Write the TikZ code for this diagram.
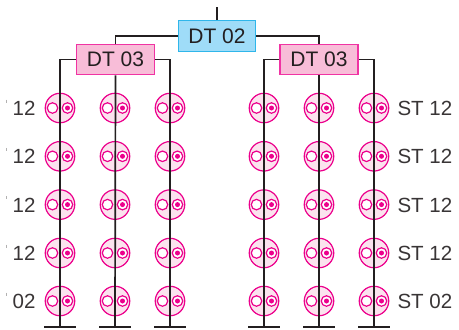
\documentclass[tikz,border=0pt]{standalone}
\usepackage{fontspec}
\usetikzlibrary{calc}
\setmainfont{Liberation Sans}
\definecolor{mag}{HTML}{EC008C}
\definecolor{lightpink}{HTML}{FBE3EE}
\definecolor{boxpink}{HTML}{F8BDD8}
\definecolor{boxblue}{HTML}{9FDCF8}
\definecolor{boxblueline}{HTML}{2FB6EA}
\definecolor{ink}{HTML}{231F20}
\tikzset{
  wire/.style={draw=ink,line width=1.7pt},
  thin wire/.style={draw=ink,line width=1.3pt},
  baseline bar/.style={draw=ink,line width=1.5pt},
  scrap/.style={draw=ink!35,line width=0.6pt},
  socket/.style={circle,draw=mag,fill=lightpink,line width=1.2pt,minimum size=29.5pt,inner sep=0pt},
  hole/.style={circle,draw=mag,fill=white,line width=1.2pt,minimum size=10.5pt,inner sep=0pt},
  dot/.style={circle,fill=mag,minimum size=5pt,inner sep=0pt},
  pinkbox/.style={rectangle,draw=mag!80,fill=boxpink,line width=1.2pt,minimum width=78pt,minimum height=30.5pt,inner sep=0pt,text=ink,font=\fontsize{21}{25}\selectfont},
  bluebox/.style={rectangle,draw=boxblueline,fill=boxblue,line width=1.4pt,minimum width=77pt,minimum height=31pt,inner sep=0pt,text=ink,font=\fontsize{21}{25}\selectfont},
  lbl/.style={inner sep=0pt,text=ink!90,font=\fontsize{20.5}{25}\selectfont},
}
\begin{document}
\begin{tikzpicture}[x=1pt,y=-1pt]
\useasboundingbox (0,0) rectangle (459,330);
% boxes
\node[bluebox] (top) at (217,36) {DT 02};
\node[pinkbox] (left) at (115.5,59.5) {DT 03};
\node[pinkbox] (right) at (319,59.5) {DT 03};
\coordinate (feed) at (217,7);
\draw[thin wire] (feed) -- (top.north);
\draw[thin wire] (top.west) -| (left.north);
\draw[thin wire] (top.east) -| (right.north);
% sockets
\foreach \c/\x in {a/60,b/115,c/170,d/264,e/319,f/374}{
  \foreach \r/\y in {1/108,2/156.3,3/204.6,4/253,5/301}{
    \node[socket] (s\c\r) at (\x,\y) {};
    \node[hole] (h\c\r) at (\x-7.5,\y) {};
    \node[hole] (k\c\r) at (\x+7.5,\y) {};
    \node[dot] (d\c\r) at (\x+7.5,\y) {};
  }
  \coordinate (end\c) at (\x,327);
  \coordinate (barl\c) at (\x-16,327);
  \coordinate (barr\c) at (\x+16,327);
  \draw[baseline bar] (barl\c) -- (barr\c);
}
% feeders
\draw[wire] (left.west) -| (enda);
\draw[wire] (left.south) -- (endb);
\draw[wire] (left.east) -| (endc);
\draw[wire] (right.west) -| (endd);
\draw[wire] (right.south) -- (ende);
\draw[wire] (right.east) -| (endf);
% labels
\foreach \r/\t in {1/12,2/12,3/12,4/12,5/02}{
  \node[lbl,anchor=east] (ll\r) at ($(sa\r.west)+(-9,0.5)$) {\t};
  \node[lbl,anchor=west] (rl\r) at ($(sf\r.east)+(8,0.5)$) {ST \t};
  \coordinate (ma\r) at ($(sa\r.west)+(-38,-8.5)$);
  \coordinate (mb\r) at ($(sa\r.west)+(-38,-5.5)$);
  \draw[scrap] (ma\r) -- (mb\r);
}
\end{tikzpicture}
\end{document}
